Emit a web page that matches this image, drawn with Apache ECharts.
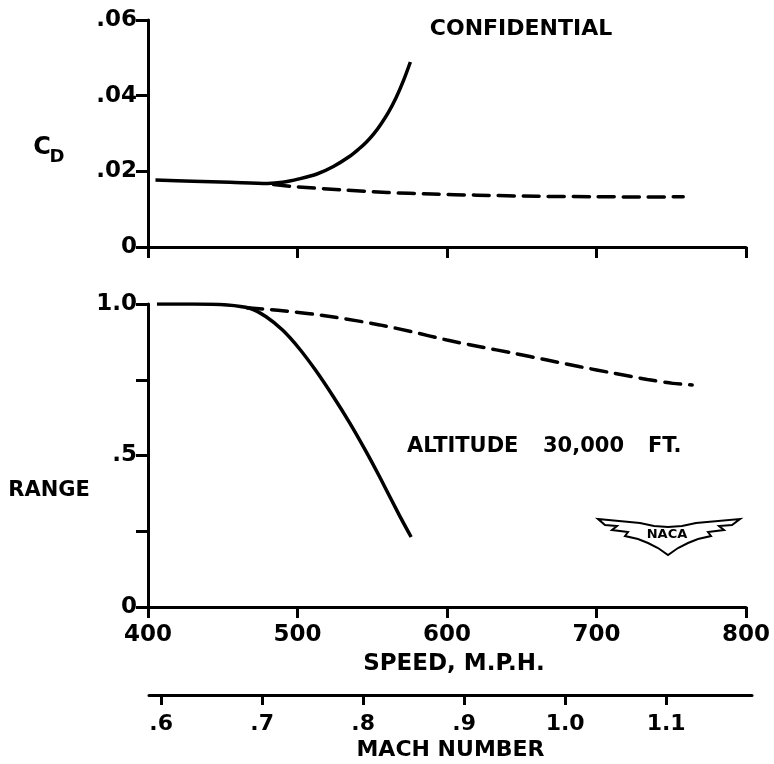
<!DOCTYPE html>
<html>
<head>
<meta charset="utf-8">
<script src="https://cdn.jsdelivr.net/npm/echarts@6/dist/echarts.min.js"></script>
<style>
html,body{margin:0;padding:0;background:#fff;}
#chart{width:774px;height:764px;}
</style>
</head>
<body>
<div id="chart"></div>
<script>
// ---- data ----
// Top panel: drag coefficient vs speed (m.p.h.)
var cdSolidSpeed = [405, 430, 455, 480, 490, 501, 513, 524, 535, 541, 546, 551, 556, 561, 566, 571, 575.5];
var cdSolidValue = [0.0177, 0.0174, 0.0171, 0.0168, 0.0171, 0.0180, 0.0193, 0.0213, 0.0240, 0.0259, 0.0277, 0.0299, 0.0326, 0.0357, 0.0395, 0.0441, 0.0489];
var cdDashSpeed = [484, 500, 530, 560, 590, 620, 660, 700, 730, 758];
var cdDashValue = [0.0165, 0.0159, 0.0151, 0.0144, 0.0140, 0.0137, 0.0134, 0.0133, 0.0132, 0.0133];

// Bottom panel: relative range vs speed
var rangeSolidSpeed = [406, 430, 453, 468, 479, 490, 501, 512, 524, 535, 546, 555, 568, 576];
var rangeSolidValue = [1.0, 1.0, 0.997, 0.986, 0.958, 0.914, 0.854, 0.782, 0.694, 0.607, 0.512, 0.429, 0.304, 0.231];
var rangeDashSpeed = [466, 490, 523, 555, 576, 600, 622, 644, 667, 689, 711, 734, 751, 764];
var rangeDashValue = [0.988, 0.978, 0.958, 0.931, 0.909, 0.881, 0.859, 0.838, 0.815, 0.793, 0.772, 0.751, 0.738, 0.733];

// Axis ticks / labels
var speedTicks = [400, 500, 600, 700, 800];
var cdTickLabels = ['0', '.02', '.04', '.06'];
var rangeTickLabels = ['0', '', '.5', '', '1.0'];
var machTicks = [0.6, 0.7, 0.8, 0.9, 1.0, 1.1];
var machTickLabels = ['.6', '.7', '.8', '.9', '1.0', '1.1'];
var machMin = 0.588, machMax = 1.185;

function pairs(xs, ys) { return xs.map(function (x, i) { return [x, ys[i]]; }); }

var FONT = 'DejaVu Sans';
var axisLine = { show: true, lineStyle: { color: '#000', width: 3 } };
var tickStyle = { color: '#000', width: 3 };
var labelStyle = { color: '#000', fontFamily: FONT, fontWeight: 'bold', fontSize: 23 };

var chart = echarts.init(document.getElementById('chart'), null, { renderer: 'canvas' });

var solid = { color: '#000', width: 3.5 };
var dashed = { color: '#000', width: 3.5, type: [16, 9], cap: 'round' };

function txt(t, x, y, size, align) {
  return { type: 'text', style: { text: t, x: x, y: y, textAlign: align || 'center', textVerticalAlign: 'middle',
    fill: '#000', font: 'bold ' + size + 'px "DejaVu Sans"' } };
}

var option = {
  backgroundColor: '#fff',
  animation: false,
  grid: [
    { left: 148, top: 20, width: 598, height: 227 },
    { left: 148, top: 304, width: 598, height: 303 },
    { left: 149, top: 694, width: 603, height: 1 }
  ],
  xAxis: [
    { type: 'value', gridIndex: 0, min: speedTicks[0], max: speedTicks[speedTicks.length - 1], interval: 100,
      axisLine: axisLine, axisTick: { show: true, length: 11, lineStyle: tickStyle },
      axisLabel: { show: false }, splitLine: { show: false } },
    { type: 'value', gridIndex: 1, min: speedTicks[0], max: speedTicks[speedTicks.length - 1], interval: 100,
      axisLine: axisLine, axisTick: { show: true, length: 11, lineStyle: tickStyle },
      axisLabel: Object.assign({}, labelStyle, { margin: 17 }),
      splitLine: { show: false },
      name: 'SPEED, M.P.H.', nameLocation: 'middle', nameGap: 46,
      nameTextStyle: Object.assign({}, labelStyle, { fontSize: 23, padding: [0, 0, 0, 14] }) },
    { type: 'value', gridIndex: 2, min: machMin, max: machMax,
      axisLine: axisLine,
      axisTick: { show: true, length: 10, lineStyle: tickStyle, customValues: machTicks },
      axisLabel: Object.assign({}, labelStyle, { margin: 18, fontSize: 22, customValues: machTicks,
        formatter: function (v) { var i = machTicks.findIndex(function (t) { return Math.abs(t - v) < 1e-6; }); return i >= 0 ? machTickLabels[i] : ''; } }),
      splitLine: { show: false },
      name: 'MACH NUMBER', nameLocation: 'middle', nameGap: 44,
      nameTextStyle: Object.assign({}, labelStyle, { fontSize: 22 }) }
  ],
  yAxis: [
    { type: 'value', gridIndex: 0, min: 0, max: 0.06, interval: 0.02,
      axisLine: axisLine, axisTick: { show: true, length: 12, lineStyle: tickStyle },
      axisLabel: Object.assign({}, labelStyle, { margin: 11,
        formatter: function (v) { return cdTickLabels[Math.round(v / 0.02)]; } }),
      splitLine: { show: false } },
    { type: 'value', gridIndex: 1, min: 0, max: 1, interval: 0.25,
      axisLine: axisLine, axisTick: { show: true, length: 12, lineStyle: tickStyle },
      axisLabel: Object.assign({}, labelStyle, { margin: 11,
        formatter: function (v) { return rangeTickLabels[Math.round(v / 0.25)]; } }),
      splitLine: { show: false } },
    { type: 'value', gridIndex: 2, min: 0, max: 1, show: false }
  ],
  series: [
    { type: 'line', xAxisIndex: 0, yAxisIndex: 0, data: pairs(cdSolidSpeed, cdSolidValue),
      showSymbol: false, smooth: 0.3, lineStyle: solid, z: 3 },
    { type: 'line', xAxisIndex: 0, yAxisIndex: 0, data: pairs(cdDashSpeed, cdDashValue),
      showSymbol: false, smooth: 0.3, lineStyle: dashed },
    { type: 'line', xAxisIndex: 1, yAxisIndex: 1, data: pairs(rangeSolidSpeed, rangeSolidValue),
      showSymbol: false, smooth: 0.3, lineStyle: solid, z: 3 },
    { type: 'line', xAxisIndex: 1, yAxisIndex: 1, data: pairs(rangeDashSpeed, rangeDashValue),
      showSymbol: false, smooth: 0.3, lineStyle: dashed }
  ],
  graphic: [
    txt('CONFIDENTIAL', 521, 29, 22),
    txt('ALTITUDE', 407, 447, 21, 'left'),
    txt('30,000', 543, 447, 21, 'left'),
    txt('FT.', 648, 447, 21, 'left'),
    txt('RANGE', 49, 491, 21),
    txt('C', 42, 148, 24),
    txt('D', 57, 157, 18),
    { type: 'polygon',
      shape: { points: [[598,519],[640,523],[654,526],[668,527],[682,526],[696,523],[740,519],[732,525],[719,526],[724,530],[708,532],[711,536],[698,539],[688,543],[678,548],[668,555],[658,548],[648,543],[638,539],[625,536],[628,532],[612,530],[617,526],[605,525]] },
      style: { fill: '#fff', stroke: '#000', lineWidth: 2 } },
    txt('NACA', 667, 535, 13)
  ]
};
chart.setOption(option);
</script>
</body>
</html>
